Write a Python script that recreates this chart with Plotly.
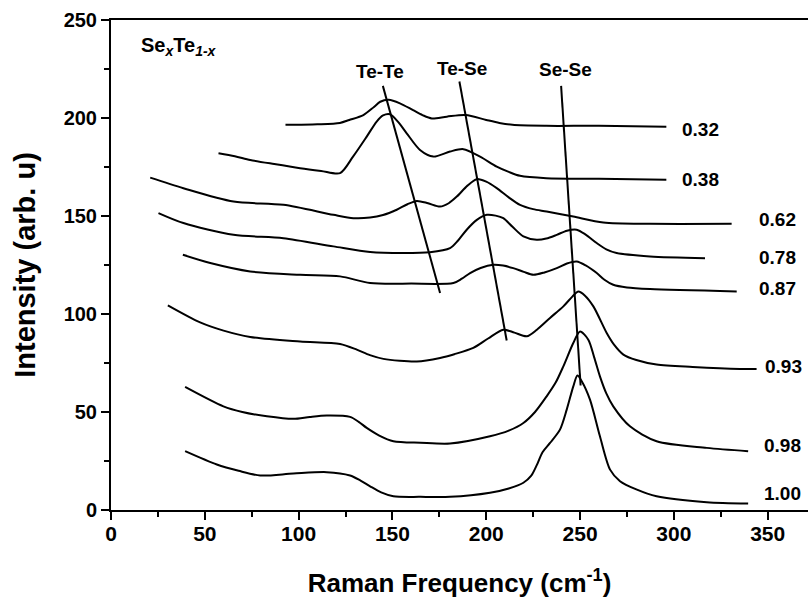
import plotly.graph_objects as go

# ---- data ----
s032_x = [93, 110, 122, 127, 134.5, 140, 143.5, 148, 154, 161, 166, 171, 179, 189, 200, 207, 214, 232, 260, 296]
s032_y = [196.5, 196.8, 197.5, 199, 201.5, 205.5, 208.3, 209.3, 207.5, 204, 201.5, 199.8, 200.7, 201.5, 199, 197.5, 196.5, 196, 196, 195.5]

s038_x = [57.3, 66, 74.2, 87, 100.8, 112, 122.1, 129, 136.3, 141.6, 145, 148.7, 153, 157.6, 164.7, 171.8, 180.7, 187.8, 196.7, 205.6, 212, 218, 232, 260, 296]
s038_y = [182, 180.5, 178.6, 176.5, 174.4, 173, 171.9, 180.3, 190.5, 198.2, 201.3, 201.9, 198, 192.2, 183.7, 180.3, 182.9, 184.1, 180.3, 175.2, 172.5, 170.5, 169.3, 169, 168.5]

s062_x = [20.9, 38.6, 65.3, 91.9, 118.5, 129.2, 138.1, 145, 152.3, 158, 163, 169, 175.4, 180, 184.3, 190, 194.9, 200, 205.6, 212, 218, 225, 232.2, 246.4, 262.4, 287.3, 330.8]
s062_y = [169.6, 164.2, 157.4, 155.7, 150.6, 148.9, 149.2, 150.5, 153.2, 156, 157.7, 156.5, 154.8, 156.5, 159.9, 165.5, 168.8, 167.5, 164.2, 159.5, 155.7, 153.5, 152.3, 149.7, 146.7, 146, 146]

s078_x = [25.3, 38.6, 65.3, 91.9, 118.5, 138.1, 155.8, 170, 180.7, 185, 189.6, 195, 200.3, 205, 209.1, 214, 219.8, 226.9, 232, 237.6, 243, 248.2, 253, 258.9, 264, 269.5, 287.3, 316.6]
s078_y = [151.5, 146.4, 140.4, 138.7, 134.5, 131.6, 131.1, 131.5, 133.6, 137.5, 143, 148, 150.6, 150.2, 148.9, 144.5, 139.6, 137.9, 138.5, 140.4, 142.5, 143, 140.5, 136.2, 133, 131.1, 129.4, 128.5]

s087_x = [38.3, 52.9, 74.2, 100.8, 122.1, 138.1, 160, 182.5, 187, 191.4, 197, 203.8, 209, 214.4, 220, 225.1, 231, 237.6, 243, 248.2, 253, 258.9, 263, 267.7, 275, 287.3, 333.5]
s087_y = [130.2, 126, 121.7, 120, 119.2, 115.8, 115.5, 115.8, 118, 120.9, 123.5, 125.1, 124.7, 123.4, 121.5, 120, 121.2, 123.4, 125.8, 126.8, 124.8, 120.9, 117.5, 114.9, 113.5, 112.7, 111.5]

s093_x = [30.3, 47.5, 60, 74.2, 100.8, 122.1, 131, 138, 145.2, 163, 175.4, 183, 193.1, 201, 209.1, 215, 221.6, 227, 234, 241.1, 246, 249.1, 252.5, 257.1, 264.2, 268, 273.1, 280, 290.8, 310, 335.2, 344.1]
s093_y = [104.4, 95.7, 91.5, 88.3, 86, 84.7, 81.8, 79, 77.1, 75.8, 77.6, 79.5, 82.7, 87.5, 92, 90.5, 88.6, 92, 98, 103.9, 109, 111.5, 109.5, 103.9, 90.3, 84.5, 79.3, 76.5, 74.2, 73, 72, 72]

s098_x = [39.5, 59.9, 70, 83.1, 97.2, 106, 115, 127.4, 132, 136.3, 143, 150.5, 165, 180.7, 202, 212, 219.8, 226, 232.2, 237, 241.1, 246.4, 250, 254.4, 257.5, 260.6, 264, 267.7, 276.6, 290.8, 317.5, 339.6]
s098_y = [62.8, 52.9, 50, 47.8, 46.5, 47.5, 48.2, 47.5, 45, 41.9, 38, 35.1, 34.3, 33.9, 37.6, 40.5, 44.4, 50, 58, 65, 73.3, 85.2, 91.1, 86.9, 78, 68.2, 59.5, 52.9, 42.7, 35.1, 31.7, 30]

s100_x = [39.5, 56.4, 68, 79.5, 97.2, 115, 127.4, 133, 138.1, 144, 150.5, 165, 180.7, 202, 212, 219.8, 224, 227, 230, 234, 239.3, 242.9, 246.4, 248.6, 250.9, 255.3, 260.6, 266, 271.3, 280, 290.8, 317.5, 339.6]
s100_y = [30, 23.2, 20, 17.6, 18.6, 19.3, 17.6, 15, 12.1, 9, 7, 6.7, 6.7, 8.8, 11, 13.9, 17.5, 23, 29.5, 34.2, 41, 51.2, 63.1, 68.6, 65.7, 56.3, 37.6, 20.6, 14.7, 10.5, 7, 4, 3.3]

series = [
    ("0.32", s032_x, s032_y), ("0.38", s038_x, s038_y), ("0.62", s062_x, s062_y),
    ("0.78", s078_x, s078_y), ("0.87", s087_x, s087_y), ("0.93", s093_x, s093_y),
    ("0.98", s098_x, s098_y), ("1.00", s100_x, s100_y),
]

# composition labels at the right end of each spectrum
label_text = ["0.32", "0.38", "0.62", "0.78", "0.87", "0.93", "0.98", "1.00"]
label_x = [303.3, 303.3, 344.1, 344.1, 344.1, 347.5, 346.8, 346.8]
label_y = [194.3, 168.4, 148.1, 129.0, 113.2, 73.0, 32.9, 8.4]

# peak-shift guide lines
guide_names = ["Te-Te", "Te-Se", "Se-Se"]
guide_x = [[144.9, 175.4], [185.7, 210.9], [239.9, 250.3]]
guide_y = [[216.4, 110.7], [218.6, 86.5], [216.4, 63.5]]
guide_label_x = [143.4, 187.0, 242.0]
guide_label_y = [223.7, 225.4, 224.5]

FONT = "Liberation Sans, Arial, sans-serif"

fig = go.Figure()
for name, xs, ys in series:
    fig.add_trace(go.Scatter(x=xs, y=ys, mode="lines", name=name,
                             line=dict(color="black", width=2, shape="spline", smoothing=0.8),
                             showlegend=False, hoverinfo="skip"))
for gx, gy in zip(guide_x, guide_y):
    fig.add_trace(go.Scatter(x=gx, y=gy, mode="lines", line=dict(color="black", width=2),
                             showlegend=False, hoverinfo="skip"))

for t, x, y in zip(label_text, label_x, label_y):
    fig.add_annotation(x=x, y=y, text=t, showarrow=False, xanchor="left", yanchor="middle",
                       font=dict(family=FONT, size=19, color="black", weight="bold"))
for t, x, y in zip(guide_names, guide_label_x, guide_label_y):
    fig.add_annotation(x=x, y=y, text=t, showarrow=False, xanchor="center", yanchor="middle",
                       font=dict(family=FONT, size=19, color="black", weight="bold"))
fig.add_annotation(x=15, y=236.4, text="Se<sub><i>x</i></sub>Te<sub><i>1-x</i></sub>", showarrow=False,
                   xanchor="left", yanchor="middle",
                   font=dict(family=FONT, size=20, color="black", weight="bold"))

fig.update_layout(
    width=808, height=605,
    margin=dict(l=111, r=0, t=20, b=95),
    paper_bgcolor="white", plot_bgcolor="white",
    font=dict(family=FONT, color="black"),
)
fig.update_xaxes(range=[0, 371.5], tick0=0, dtick=50, ticks="outside", ticklen=8, tickwidth=2,
                 tickcolor="black", showline=True, linecolor="black", linewidth=2, mirror=True,
                 showgrid=False, zeroline=False, ticklabelstandoff=-4,
                 tickfont=dict(family=FONT, size=21, color="black", weight="bold"),
                 minor=dict(dtick=25, ticks="outside", ticklen=5, tickwidth=2, tickcolor="black", showgrid=False),
                 title=dict(text="Raman Frequency (cm<sup>-1</sup>)", standoff=30,
                            font=dict(family=FONT, size=26, color="black", weight="bold")))
fig.update_yaxes(range=[0, 250], tick0=0, dtick=50, ticks="outside", ticklen=8, tickwidth=2,
                 tickcolor="black", showline=True, linecolor="black", linewidth=2,
                 showgrid=False, zeroline=False,
                 tickfont=dict(family=FONT, size=20, color="black", weight="bold"),
                 minor=dict(dtick=25, ticks="outside", ticklen=5, tickwidth=2, tickcolor="black", showgrid=False),
                 title=dict(text="Intensity (arb. u)", standoff=19,
                            font=dict(family=FONT, size=29, color="black", weight="bold")))

fig.write_html("out.html")
